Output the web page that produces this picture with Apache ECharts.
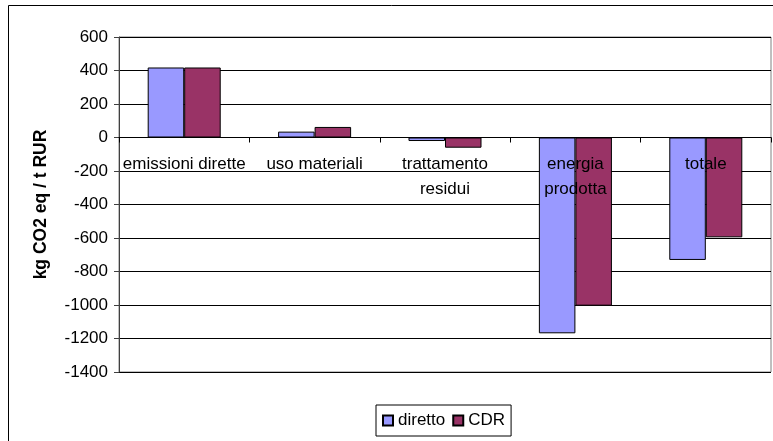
<!DOCTYPE html>
<html>
<head>
<meta charset="utf-8">
<script src="https://cdn.jsdelivr.net/npm/echarts@6/dist/echarts.min.js"></script>
<style>html,body{margin:0;padding:0;background:#fff;}#c{width:773px;height:441px;}</style>
</head>
<body>
<div id="c"></div>
<script>
var categories = ['emissioni dirette', 'uso materiali', 'trattamento\nresidui', 'energia\nprodotta', 'totale'];
var diretto = [418, 35, -21, -1169, -731];
var cdr = [418, 63, -61, -1004, -596];
var seriesNames = ['diretto', 'CDR'];
var yAxisName = 'kg CO2 eq / t RUR';

var FONT = '"Liberation Sans", Arial, sans-serif';
var Y_MIN = -1400, Y_MAX = 600;
var GRID_TOP = 37, GRID_BOTTOM = 69, H = 441;
var plotH = H - GRID_TOP - GRID_BOTTOM;
var zeroOffset = -plotH * (0 - Y_MIN) / (Y_MAX - Y_MIN);

var chart = echarts.init(document.getElementById('c'), null, {renderer: 'canvas'});
chart.setOption({
  animation: false,
  backgroundColor: '#fff',
  textStyle: {fontFamily: FONT, color: '#000'},
  graphic: [{
    type: 'rect', silent: true, z: -10,
    shape: {x: 8.5, y: 5.5, width: 900, height: 600},
    style: {fill: 'none', stroke: '#000', lineWidth: 1}
  }],
  grid: {left: 119, top: GRID_TOP, right: 2, bottom: GRID_BOTTOM, show: true, borderColor: '#808080', borderWidth: 1, backgroundColor: 'transparent'},
  legend: {
    data: seriesNames,
    left: 376, top: 405,
    padding: [7, 6, 7, 6],
    borderColor: '#000', borderWidth: 1,
    itemWidth: 10, itemHeight: 10, itemGap: 7,
    icon: 'rect',
    textStyle: {fontFamily: FONT, fontSize: 17, color: '#000'}
  },
  xAxis: {
    type: 'category',
    data: categories,
    z: 3,
    position: 'bottom',
    offset: zeroOffset,
    axisLine: {onZero: false, lineStyle: {color: '#000', width: 1}},
    axisTick: {show: true, length: 5, lineStyle: {color: '#000'}},
    axisLabel: {fontFamily: FONT, fontSize: 17, color: '#000', margin: 14, lineHeight: 25, interval: 0},
    splitLine: {show: false}
  },
  yAxis: {
    type: 'value',
    min: Y_MIN, max: Y_MAX, interval: 200,
    name: yAxisName,
    nameLocation: 'middle',
    nameGap: 69,
    nameTextStyle: {fontFamily: FONT, fontSize: 17.5, fontWeight: 'bold', color: '#000'},
    axisLine: {show: true, lineStyle: {color: '#404040', width: 1}},
    axisTick: {show: true, length: 5, lineStyle: {color: '#404040'}},
    axisLabel: {fontFamily: FONT, fontSize: 17, color: '#000', margin: 11, formatter: function (v) { return String(v); }},
    splitLine: {show: true, lineStyle: {color: '#000', width: 1}}
  },
  series: [
    {name: seriesNames[0], type: 'bar', data: diretto, barWidth: '28%', barGap: '0%',
     itemStyle: {color: '#9999FF', borderColor: '#000', borderWidth: 1}},
    {name: seriesNames[1], type: 'bar', data: cdr, barWidth: '28%', barGap: '0%',
     itemStyle: {color: '#993366', borderColor: '#000', borderWidth: 1}}
  ]
});
</script>
</body>
</html>
